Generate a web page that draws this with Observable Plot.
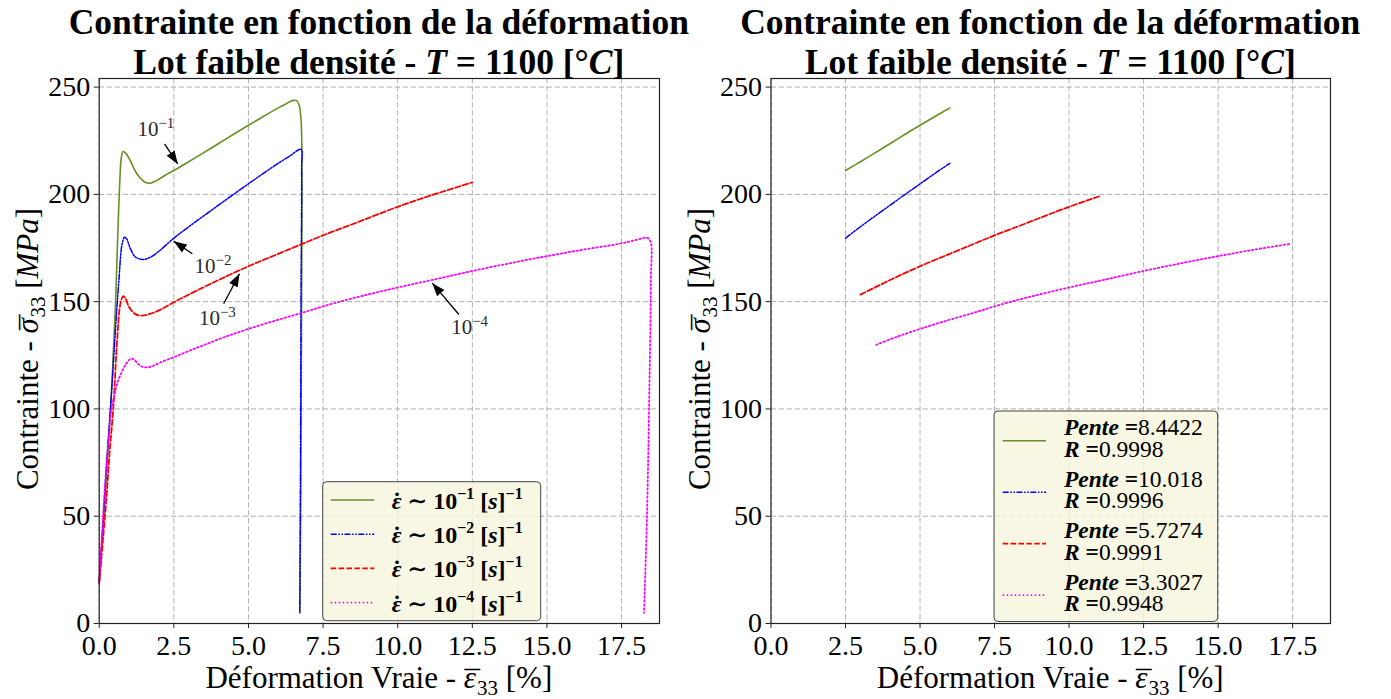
<!DOCTYPE html>
<html>
<head>
<meta charset="utf-8">
<script src="https://cdn.jsdelivr.net/npm/d3@7"></script>
<script src="https://cdn.jsdelivr.net/npm/@observablehq/plot@0.6"></script>
<style>
  body { margin: 0; background: #fff; }
  #chart { position: relative; width: 1391px; height: 699px; overflow: hidden; background: #fff; }
  #chart > svg.plotpanel { position: absolute; top: 0; margin: 0; }
  #overlay { position: absolute; left: 0; top: 0; pointer-events: none; }
</style>
</head>
<body>
<div id="chart"></div>
<script>
// ---- Stress–strain curves (true strain in %, stress in MPa), one pair of arrays per strain rate ----
const strainA = [0, 0.15, 0.38, 0.55, 0.62, 0.69, 0.74, 0.8, 0.9, 1.05, 1.2, 1.38, 1.55, 1.7, 1.9, 2.2, 2.5, 3.0, 3.45, 4.0, 4.5, 5.0, 5.5, 6.0, 6.3, 6.5, 6.62, 6.7, 6.76, 6.79, 6.78, 6.75, 6.72];
const stressA = [19, 50, 100, 150, 180, 206, 217, 220, 219, 215.5, 211, 207.5, 205.5, 205.2, 206.3, 208.8, 211.1, 215.2, 219.0, 223.7, 228.0, 232.2, 236.3, 240.3, 242.5, 243.8, 243.6, 241.5, 235, 221, 150, 60, 5];

const strainB = [0, 0.12, 0.25, 0.4, 0.55, 0.66, 0.77, 0.85, 0.92, 1.05, 1.2, 1.44, 1.7, 2.0, 2.5, 3.0, 3.5, 4.0, 4.5, 5.0, 5.5, 6.0, 6.4, 6.76, 6.78, 6.76, 6.74, 6.72];
const stressB = [19, 45, 75, 105, 138, 160, 177, 180, 179.2, 174.6, 171, 169.6, 170.6, 173.5, 179.6, 184.9, 190.0, 195.0, 200.0, 204.9, 209.8, 214.5, 218, 221, 212, 150, 60, 5];

const strainC = [0, 0.12, 0.25, 0.35, 0.47, 0.6, 0.71, 0.8, 0.88, 1.0, 1.2, 1.43, 1.7, 2.06, 2.5, 3.0, 4.0, 5.0, 6.0, 6.8, 7.5, 8.5, 10.0, 11.0, 12.0, 12.5];
const stressC = [19, 38, 60, 80, 100, 132, 149, 152.5, 151.5, 147.5, 144.3, 143.5, 144.3, 146.3, 149.7, 153.3, 160.1, 166.5, 172.3, 176.9, 180.9, 186.2, 194.2, 199, 203.4, 205.6];

const strainD = [0, 0.13, 0.25, 0.41, 0.5, 0.6, 0.75, 0.9, 1.05, 1.15, 1.3, 1.45, 1.6, 1.8, 2.06, 2.5, 3.0, 3.53, 4.2, 5.0, 6.0, 6.8, 7.5, 8.5, 10.0, 11.15, 12.5, 13.8, 15.0, 16.2, 17.4, 18.0, 18.35, 18.47, 18.48, 18.42, 18.35, 18.25];
const stressD = [20, 50, 75, 100, 106, 111.7, 117, 121, 123.3, 123.2, 121, 119.6, 119.4, 120, 121.8, 124.1, 127, 129.9, 133.5, 137.3, 141.6, 144.8, 147.8, 151.6, 156.6, 160.1, 164.3, 168, 171.2, 174.2, 176.9, 178.8, 179.8, 178, 160, 100, 50, 5];

// strain-rate exponents and line styles
const rateExponents = ["1", "2", "3", "4"];
const seriesColors = ["#6b8e23", "#0000ff", "#ff0000", "#ff00ff"];
const seriesDashes = [null, "6,1.6,1.5,1.6,1.5,1.6", "5.5,2.4", "1.5,2.5"];
const seriesWidths = [1.6, 1.5, 1.8, 1.8];

// linear-fit windows and fit results
const fitStart = [2.5, 2.5, 3.0, 3.53];
const fitEnd = [6.0, 6.0, 11.0, 17.4];
const fitSlopes = ["8.4422", "10.018", "5.7274", "3.3027"];
const fitR = ["0.9998", "0.9996", "0.9991", "0.9948"];

// curve annotations: "10" raised to the strain-rate exponent
const annBase = "10";
const annExponents = ["\u22121", "\u22122", "\u22123", "\u22124"];
const annTipX = [2.63, 2.5, 4.70, 11.16];
const annTipY = [214.2, 178.1, 163.0, 158.6];
const annTailX = [2.19, 3.12, 4.17, 12.05];
const annTailY = [223.5, 172.3, 149.0, 144.0];
const annTextX = [1.28, 3.19, 3.34, 11.79];
const annTextY = [227.4, 163.2, 139.2, 135.0];

// axes
const xTicks = [0, 2.5, 5, 7.5, 10, 12.5, 15, 17.5];
const yTicks = [0, 50, 100, 150, 200, 250];
const xDomain = [0, 18.77];
const yDomain = [0, 254];

// ---- tables ----
const strains = [strainA, strainB, strainC, strainD];
const stresses = [stressA, stressB, stressC, stressD];
const curves = strains.map((xs, k) => xs.map((x, i) => ({x, y: stresses[k][i], k})));
const fitted = curves.map((rows, k) => rows.filter(d => d.x >= fitStart[k] - 1e-9 && d.x <= fitEnd[k] + 1e-9 && d.y > 100));
const annotations = annExponents.map((exp, i) => ({
  base: annBase, exp, hx: annTipX[i], hy: annTipY[i], tx: annTailX[i], ty: annTailY[i], lx: annTextX[i], ly: annTextY[i]
}));

const FONT = "'Liberation Serif', 'DejaVu Serif', serif";
const NS = "http://www.w3.org/2000/svg";

// filled triangular arrow head
function arrowHead(color, context) {
  const doc = (context && context.document) || document;
  const m = doc.createElementNS(NS, "marker");
  m.setAttribute("viewBox", "-13 -5 13 10");
  m.setAttribute("refX", "0");
  m.setAttribute("refY", "0");
  m.setAttribute("markerWidth", "13");
  m.setAttribute("markerHeight", "10");
  m.setAttribute("markerUnits", "userSpaceOnUse");
  m.setAttribute("orient", "auto");
  const p = doc.createElementNS(NS, "path");
  p.setAttribute("d", "M-13,-4.8L0,0L-13,4.8Z");
  p.setAttribute("fill", "#000");
  p.setAttribute("stroke", "none");
  m.appendChild(p);
  return m;
}

// draw the exponent of each annotation as a raised, smaller tspan
function superscriptRender(index, scales, values, dimensions, context, next) {
  const g = next(index, scales, values, dimensions, context);
  g.querySelectorAll("text").forEach((t, j) => {
    const d = annotations[index[j]];
    t.textContent = "";
    const b = document.createElementNS(NS, "tspan");
    b.textContent = d.base;
    const e = document.createElementNS(NS, "tspan");
    e.textContent = d.exp;
    e.setAttribute("dy", "-8");
    e.setAttribute("font-size", "15");
    t.appendChild(b);
    t.appendChild(e);
  });
  return g;
}

function panel(seriesRows, {width, marginLeft, marginRight, annotate, head}) {
  const marks = [
    Plot.gridX(xTicks, {stroke: "#b0b0b0", strokeOpacity: 1, strokeWidth: 1, strokeDasharray: "5.5,2.5"}),
    Plot.gridY(yTicks, {stroke: "#b0b0b0", strokeOpacity: 1, strokeWidth: 1, strokeDasharray: "5.5,2.5"}),
    ...seriesRows.map((rows, k) => Plot.line(rows, {
      x: "x", y: "y", stroke: seriesColors[k], strokeWidth: seriesWidths[k],
      strokeDasharray: seriesDashes[k] || undefined, curve: "catmull-rom"
    })),
    Plot.frame({stroke: "#222", strokeWidth: 1.2}),
    Plot.axisX({ticks: xTicks, tickFormat: d => d.toFixed(1), tickSize: 5, tickPadding: 7, fontSize: 28, label: null, stroke: "#222"}),
    Plot.axisY({ticks: yTicks, tickSize: 5, tickPadding: 4, fontSize: 28, label: null, stroke: "#222"})
  ];
  if (annotate) {
    marks.push(
      Plot.link(annotations, {x1: "tx", y1: "ty", x2: "hx", y2: "hy", stroke: "#000", strokeWidth: 1.3, markerEnd: head}),
      Plot.text(annotations, {x: "lx", y: "ly", text: d => d.base + d.exp, textAnchor: "start", lineAnchor: "bottom",
        fontSize: 21, fill: "#2a2a2a", render: superscriptRender})
    );
  }
  return Plot.plot({
    width, height: 699,
    marginLeft, marginRight, marginTop: 78, marginBottom: 76,
    x: {domain: xDomain},
    y: {domain: yDomain},
    style: {fontFamily: FONT, fontSize: "28px", color: "#000", background: "#fff"},
    marks
  });
}

const chart = document.getElementById("chart");
function build(head) {
  const left = panel(curves, {width: 672, marginLeft: 98.7, marginRight: 13, annotate: true, head});
  const right = panel(fitted, {width: 719, marginLeft: 98.5, marginRight: 61, annotate: false, head});
  return [left, right];
}
let panels;
try { panels = build(arrowHead); } catch (e) { panels = build("arrow"); }
panels[0].classList.add("plotpanel");
panels[1].classList.add("plotpanel");
panels[0].style.left = "0px";
panels[1].style.left = "672px";
chart.appendChild(panels[0]);
chart.appendChild(panels[1]);

// ---- titles, axis labels and legends ----
const ov = document.createElementNS(NS, "svg");
ov.setAttribute("id", "overlay");
ov.setAttribute("width", 1391);
ov.setAttribute("height", 699);
ov.setAttribute("font-family", FONT);
chart.appendChild(ov);

function el(tag, attrs, parent) {
  const e = document.createElementNS(NS, tag);
  for (const k in attrs) e.setAttribute(k, attrs[k]);
  (parent || ov).appendChild(e);
  return e;
}
function span(parent, text, attrs) {
  const t = el("tspan", attrs || {}, parent);
  t.textContent = text;
  return t;
}

const centers = [98.7 + (659 - 98.7) / 2, 770.5 + (1330 - 770.5) / 2];
const frameLeft = [98.7, 770.5];

centers.forEach((cx, p) => {
  // title
  const t1 = el("text", {x: cx, y: 34, "text-anchor": "middle", "font-weight": "bold", "font-size": 35.5});
  t1.textContent = "Contrainte en fonction de la déformation";
  const t2 = el("text", {x: cx, y: 74, "text-anchor": "middle", "font-weight": "bold", "font-size": 35.5});
  span(t2, "Lot faible densité - ");
  span(t2, "T", {"font-style": "italic"});
  span(t2, " = 1100 [°");
  span(t2, "C", {"font-style": "italic"});
  span(t2, "]");

  // x label: ε with a bar, subscript 33
  const xl = el("text", {x: cx, y: 688, "text-anchor": "middle", "font-size": 31});
  span(xl, "Déformation Vraie - ");
  span(xl, "\u03B5", {"font-style": "italic"});
  span(xl, "\u00AF", {dx: -11.5, dy: 5});
  span(xl, "33", {dx: -3, dy: 2, "font-size": 21});
  span(xl, " [%]", {dy: -7});

  // y label: σ with a bar, subscript 33
  const yl = el("text", {transform: `translate(${frameLeft[p] - 61},${349}) rotate(-90)`, "text-anchor": "middle", "font-size": 31});
  span(yl, "Contrainte - ");
  span(yl, "\u03C3", {"font-style": "italic"});
  span(yl, "\u00AF", {dx: -12, dy: 5});
  span(yl, "33", {dx: -3, dy: 2, "font-size": 21});
  span(yl, " [", {dy: -7});
  span(yl, "MPa", {"font-style": "italic"});
  span(yl, "]");
});

// legend of the left panel: strain rates
{
  const bx = 322.7, by = 481.7, bw = 218, bh = 139;
  el("rect", {x: bx, y: by, width: bw, height: bh, rx: 4, fill: "#f5f5dc", "fill-opacity": 0.8, stroke: "#444", "stroke-width": 1});
  rateExponents.forEach((ex, i) => {
    const ly = 500 + i * 34.2;
    const ln = el("line", {x1: 330.7, x2: 374.3, y1: ly, y2: ly, stroke: seriesColors[i], "stroke-width": seriesWidths[i]});
    if (seriesDashes[i]) ln.setAttribute("stroke-dasharray", seriesDashes[i]);
    const t = el("text", {x: 391.7, y: 509 + i * 34.2, "font-weight": "bold", "font-size": 24});
    span(t, "\u03B5", {"font-style": "italic"});
    span(t, "\u02D9", {dx: -8.5});
    span(t, " \u223C 10");
    span(t, "\u2212" + ex, {dy: -10, "font-size": 16});
    span(t, " [", {dy: 10});
    span(t, "s", {"font-style": "italic"});
    span(t, "]");
    span(t, "\u22121", {dy: -10, "font-size": 16});
  });
}

// legend of the right panel: fit slopes and correlation
{
  const bx = 994, by = 411, bw = 223.7, bh = 210.5;
  el("rect", {x: bx, y: by, width: bw, height: bh, rx: 4, fill: "#f5f5dc", "fill-opacity": 0.8, stroke: "#444", "stroke-width": 1});
  fitSlopes.forEach((s, i) => {
    const ly = 440.7 + i * 51.5;
    const ln = el("line", {x1: 1002.7, x2: 1046, y1: ly, y2: ly, stroke: seriesColors[i], "stroke-width": seriesWidths[i]});
    if (seriesDashes[i]) ln.setAttribute("stroke-dasharray", seriesDashes[i]);
    const a = el("text", {x: 1064, y: 435 + i * 51.5, "font-size": 23.5});
    span(a, "Pente", {"font-weight": "bold", "font-style": "italic"});
    span(a, " =", {"font-weight": "bold"});
    span(a, s);
    const b = el("text", {x: 1064, y: 456.7 + i * 51.5, "font-size": 23.5});
    span(b, "R", {"font-weight": "bold", "font-style": "italic"});
    span(b, " =", {"font-weight": "bold"});
    span(b, fitR[i]);
  });
}
</script>
</body>
</html>
